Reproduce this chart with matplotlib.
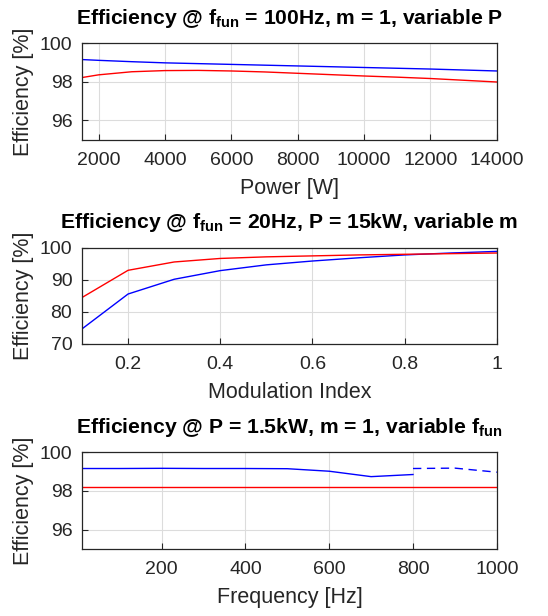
import numpy as np
import matplotlib
matplotlib.use('Agg')
import matplotlib.pyplot as plt
from matplotlib.ticker import FuncFormatter

plt.rcParams['font.family'] = 'Liberation Sans'
plt.rcParams['mathtext.fontset'] = 'custom'
plt.rcParams['mathtext.rm'] = 'Liberation Sans'
plt.rcParams['mathtext.bf'] = 'Liberation Sans:bold'

# --- data ---
power = [1500, 2000, 3000, 4000, 5000, 6000, 7000, 8000, 9000, 10000, 11000, 12000, 13000, 14000]
eff_p_blue = [99.15, 99.11, 99.04, 98.98, 98.94, 98.90, 98.86, 98.82, 98.78, 98.74, 98.70, 98.66, 98.61, 98.56]
eff_p_red = [98.22, 98.36, 98.52, 98.58, 98.59, 98.56, 98.51, 98.44, 98.37, 98.30, 98.24, 98.17, 98.08, 97.99]

mod_index = [0.1, 0.2, 0.3, 0.4, 0.5, 0.6, 0.7, 0.8, 0.9, 1.0]
eff_m_blue = [74.7, 85.6, 90.2, 92.9, 94.7, 95.9, 96.9, 97.8, 98.4, 98.9]
eff_m_red = [84.5, 93.0, 95.6, 96.7, 97.2, 97.5, 97.8, 98.0, 98.2, 98.4]

freq = [10, 100, 200, 300, 400, 500, 600, 700, 800]
eff_f_blue = [99.16, 99.16, 99.17, 99.16, 99.16, 99.15, 99.02, 98.74, 98.85]
freq_dash = [800, 900, 1000]
eff_f_blue_dash = [99.16, 99.18, 98.97]
freq_red = [10, 1000]
eff_f_red = [98.2, 98.2]

txt = '#262626'


def style(ax):
    ax.grid(True, color='#dcdcdc', linewidth=0.8)
    ax.set_axisbelow(True)
    ax.tick_params(direction='in', colors=txt, labelsize=14, length=4,
                   top=False, right=False)
    ax.tick_params(axis='x', pad=9)
    ax.tick_params(axis='y', pad=7)
    for s in ax.spines.values():
        s.set_color(txt)
        s.set_linewidth(0.9)
    ax.set_ylabel('Efficiency [%]', fontsize=15.5, color=txt, labelpad=4)


fig = plt.figure(figsize=(5.48, 6.16), dpi=100)
left, width = 0.1496, 0.757

ax1 = fig.add_axes([left, 0.773, width, 0.157])
ax1.plot(power, eff_p_blue, color='b', linewidth=1)
ax1.plot(power, eff_p_red, color='r', linewidth=1)
ax1.set_xlim(1500, 14000)
ax1.set_ylim(95, 100)
ax1.set_yticks([96, 98, 100])
ax1.set_xticks(range(2000, 14001, 2000))
style(ax1)
ax1.set_xlabel('Power [W]', fontsize=15.5, color=txt, labelpad=6)
ax1.set_title(r'Efficiency @ $\mathbf{f}_{\mathbf{fun}}$ = 100Hz, m = 1, variable P',
              fontsize=15.2, fontweight='bold', pad=14)

ax2 = fig.add_axes([left, 0.4416, width, 0.156])
ax2.plot(mod_index, eff_m_blue, color='b', linewidth=1)
ax2.plot(mod_index, eff_m_red, color='r', linewidth=1)
ax2.set_xlim(0.1, 1)
ax2.set_ylim(70, 100)
ax2.set_yticks([70, 80, 90, 100])
ax2.set_xticks([0.2, 0.4, 0.6, 0.8, 1.0])
ax2.xaxis.set_major_formatter(FuncFormatter(lambda v, p: '%g' % v))
style(ax2)
ax2.set_xlabel('Modulation Index', fontsize=15.5, color=txt, labelpad=6)
ax2.set_title(r'Efficiency @ $\mathbf{f}_{\mathbf{fun}}$ = 20Hz, P = 15kW, variable m',
              fontsize=15.2, fontweight='bold', pad=14)

ax3 = fig.add_axes([left, 0.1088, width, 0.157])
ax3.plot(freq, eff_f_blue, color='b', linewidth=1)
ax3.plot(freq_dash, eff_f_blue_dash, color='b', linewidth=1, linestyle=(0, (6, 4)))
ax3.plot(freq_red, eff_f_red, color='r', linewidth=1)
ax3.set_xlim(10, 1000)
ax3.set_ylim(95, 100)
ax3.set_yticks([96, 98, 100])
ax3.set_xticks([200, 400, 600, 800, 1000])
style(ax3)
ax3.set_xlabel('Frequency [Hz]', fontsize=15.5, color=txt, labelpad=6)
ax3.set_title(r'Efficiency @ P = 1.5kW, m = 1, variable $\mathbf{f}_{\mathbf{fun}}$',
              fontsize=15.2, fontweight='bold', pad=14)

fig.savefig('out.png', dpi=100)
